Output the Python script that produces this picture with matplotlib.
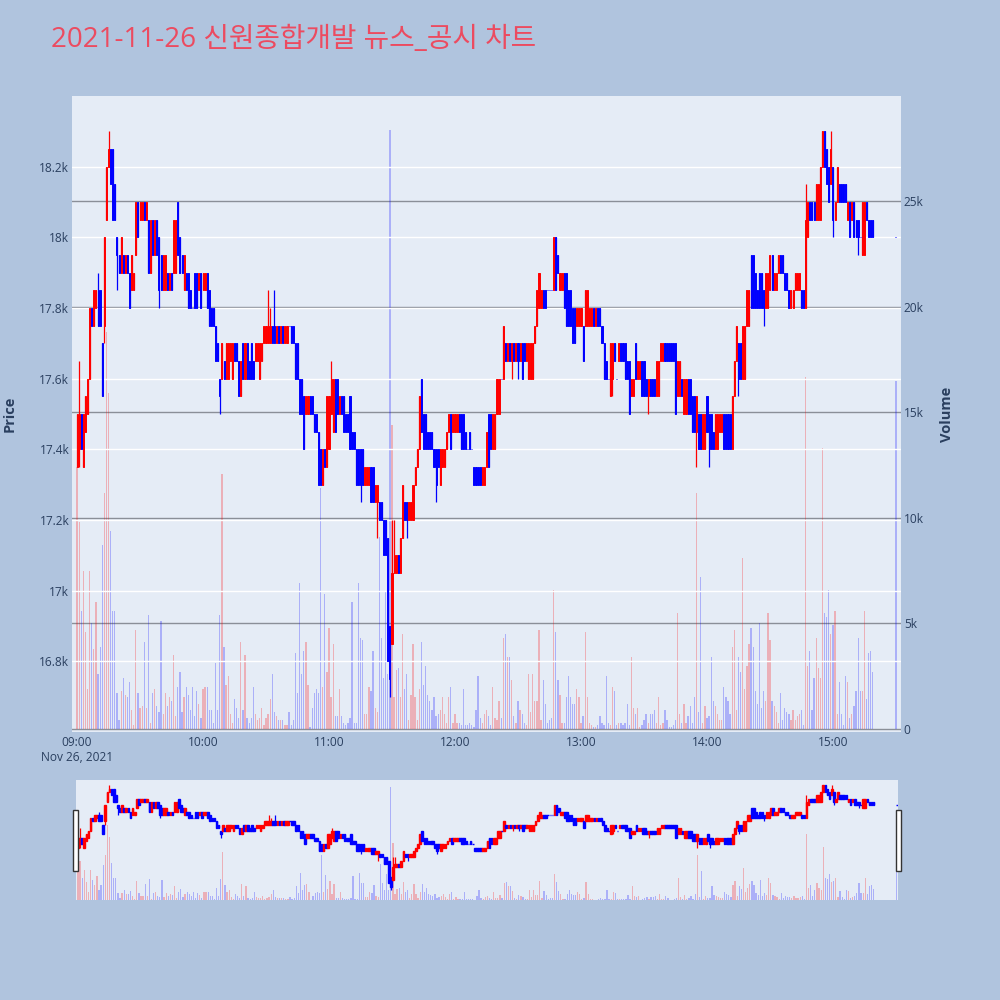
import matplotlib
matplotlib.use("Agg")
import matplotlib.pyplot as plt
from matplotlib.patches import Rectangle
import numpy as np

plt.rcParams['font.family'] = ['Open Sans', 'Noto Sans CJK KR', 'DejaVu Sans']

# minute bars of the session (minutes after 09:00), last one is the 15:30 close
minutes = list(range(380)) + [390]

# prices as 50-won ticks above 17,000
opens = [
    7, 8, 10, 7, 9, 10, 12, 16, 15, 16,
    17, 17, 14, 15, 21, 24, 25, 25, 23, 20,
    19, 18, 19, 18, 19, 18, 17, 17, 19, 22,
    21, 21, 22, 21, 21, 18, 21, 19, 21, 20,
    19, 17, 17, 18, 17, 18, 18, 18, 22, 20,
    19, 17, 18, 18, 17, 16, 18, 18, 17, 18,
    17, 17, 18, 17, 16, 16, 15, 14, 12, 12,
    13, 12, 12, 13, 12, 14, 14, 13, 11, 14,
    12, 14, 13, 14, 13, 13, 13, 12, 13, 14,
    14, 14, 14, 15, 15, 14, 15, 14, 15, 14,
    14, 15, 15, 15, 14, 14, 12, 12, 11, 10,
    10, 11, 11, 10, 10, 9, 8, 6, 8, 7,
    8, 10, 9, 12, 12, 10, 11, 11, 10, 10,
    11, 9, 9, 8, 8, 8, 8, 6, 6, 6,
    7, 7, 5, 5, 5, 5, 4, 4, 3, -2,
    -3, 1, 1, 2, 1, 3, 5, 5, 4, 4,
    4, 6, 7, 8, 12, 10, 10, 9, 9, 9,
    8, 8, 8, 6, 7, 7, 8, 9, 10, 9,
    9, 9, 10, 10, 10, 9, 8, 9, 8, 7,
    7, 7, 7, 6, 6, 7, 10, 10, 8, 8,
    10, 10, 12, 12, 14, 13, 14, 13, 14, 13,
    14, 13, 14, 14, 13, 12, 12, 12, 14, 15,
    16, 16, 17, 17, 17, 17, 17, 17, 20, 19,
    17, 17, 18, 18, 17, 17, 16, 16, 15, 15,
    15, 15, 15, 15, 15, 15, 16, 15, 16, 16,
    15, 14, 13, 12, 11, 12, 14, 12, 13, 14,
    14, 14, 13, 13, 11, 11, 14, 12, 12, 13,
    13, 12, 11, 12, 12, 12, 11, 11, 13, 13,
    14, 14, 14, 14, 14, 14, 11, 11, 12, 10,
    10, 12, 12, 11, 11, 9, 10, 10, 8, 8,
    11, 10, 10, 9, 8, 8, 9, 9, 10, 10,
    10, 10, 8, 11, 13, 14, 14, 12, 12, 15,
    15, 19, 19, 18, 17, 18, 18, 17, 16, 16,
    17, 19, 17, 17, 18, 19, 19, 18, 18, 17,
    16, 16, 17, 17, 17, 17, 17, 16, 20, 22,
    22, 22, 21, 21, 21, 24, 26, 25, 24, 23,
    24, 21, 22, 23, 23, 23, 23, 21, 22, 21,
    22, 21, 21, 20, 19, 19, 22, 21, 21, 21,
    20,
]
closes = [
    10, 10, 8, 10, 11, 12, 16, 15, 17, 17,
    15, 15, 11, 20, 24, 25, 23, 21, 21, 19,
    18, 20, 18, 19, 18, 16, 19, 18, 22, 20,
    22, 22, 21, 22, 18, 21, 19, 21, 19, 17,
    17, 19, 19, 17, 18, 17, 21, 21, 19, 18,
    18, 19, 17, 16, 16, 16, 16, 16, 18, 16,
    18, 18, 16, 15, 15, 15, 13, 13, 11, 14,
    12, 14, 14, 14, 14, 13, 13, 11, 13, 12,
    14, 12, 12, 12, 12, 14, 14, 14, 14, 15,
    15, 15, 15, 14, 14, 15, 14, 15, 14, 15,
    15, 15, 14, 14, 12, 12, 10, 10, 8, 11,
    11, 10, 10, 9, 9, 6, 6, 8, 7, 11,
    11, 12, 12, 9, 10, 11, 10, 9, 9, 9,
    8, 8, 8, 6, 6, 6, 6, 7, 7, 7,
    5, 5, 6, 6, 4, 4, 2, 2, -4, -5,
    1, 2, 2, 1, 3, 6, 4, 4, 5, 5,
    6, 7, 8, 11, 9, 8, 8, 8, 8, 8,
    7, 6, 7, 8, 8, 8, 9, 10, 8, 10,
    10, 10, 9, 8, 8, 8, 8, 8, 8, 6,
    6, 6, 6, 7, 7, 9, 7, 8, 10, 10,
    12, 12, 12, 15, 13, 14, 13, 14, 13, 14,
    13, 14, 12, 13, 14, 14, 14, 14, 15, 17,
    18, 17, 16, 16, 17, 17, 17, 20, 17, 18,
    18, 18, 16, 15, 15, 15, 14, 14, 16, 16,
    16, 13, 17, 17, 16, 16, 15, 16, 15, 15,
    14, 12, 12, 12, 14, 14, 13, 12, 14, 13,
    13, 12, 12, 10, 12, 12, 12, 13, 13, 11,
    11, 11, 12, 11, 11, 11, 13, 13, 14, 14,
    13, 13, 13, 13, 13, 10, 13, 13, 11, 12,
    12, 10, 10, 9, 9, 11, 8, 8, 10, 10,
    9, 8, 8, 8, 10, 10, 10, 10, 8, 8,
    8, 8, 11, 13, 15, 12, 12, 15, 15, 17,
    17, 16, 16, 16, 16, 16, 16, 16, 18, 18,
    19, 17, 18, 18, 19, 18, 18, 17, 17, 16,
    17, 17, 18, 18, 18, 16, 16, 21, 22, 21,
    21, 21, 23, 23, 24, 26, 24, 23, 22, 25,
    21, 22, 24, 22, 22, 22, 22, 22, 20, 22,
    20, 20, 20, 20, 22, 22, 21, 20, 20, 20,
    20,
]
# wicks that reach past the body (bar index -> tick)
wick_high = {1: 13, 10: 18, 15: 26, 91: 17, 92: 16, 94: 17, 121: 13, 150: 4,
             151: 4, 220: 18, 347: 23, 355: 26, 359: 26}
wick_low = {0: 7, 1: 7, 13: 14, 19: 17, 39: 16, 68: 10, 135: 5, 143: 3, 149: -6,
            157: 3, 171: 5, 207: 12, 210: 12, 255: 11, 272: 10, 295: 7, 301: 7,
            315: 11, 327: 15, 360: 20, 372: 19}

# volume per minute, thousands of shares
volumes_k = [
    12.4, 9.8, 5.6, 7.5, 4.6, 1.9, 7.5, 5.0, 3.8, 6.0,
    2.6, 3.9, 8.7, 11.2, 18.8, 15.9, 9.4, 5.6, 5.6, 1.7,
    0.4, 1.8, 2.4, 1.6, 1.5, 2.2, 0.9, 0.2, 4.7, 1.7,
    1.0, 1.1, 4.1, 1.0, 5.4, 0.3, 1.7, 1.9, 1.1, 0.8,
    5.1, 0.7, 1.7, 1.1, 1.5, 1.3, 3.5, 0.6, 2.0, 2.7,
    0.8, 1.5, 2.0, 1.6, 0.9, 2.0, 0.6, 1.8, 1.2, 0.5,
    1.9, 2.0, 2.0, 0.9, 0.9, 0.3, 3.1, 0.9, 5.4, 12.1,
    3.9, 2.1, 2.5, 0.7, 0.3, 1.4, 1.0, 0.5, 4.1, 0.9,
    3.5, 0.5, 0.3, 0.5, 2.0, 0.7, 0.4, 0.5, 1.0, 0.2,
    0.5, 0.7, 1.4, 2.6, 0.8, 0.6, 0.4, 0.4, 0.4, 0.2,
    0.2, 0.8, 0.2, 0.4, 3.6, 1.7, 6.9, 2.6, 3.7, 4.1,
    2.1, 0.1, 1.0, 1.7, 1.9, 1.7, 11.4, 2.0, 6.4, 2.7,
    4.8, 1.5, 4.0, 0.6, 0.6, 1.9, 0.6, 0.3, 0.2, 0.3,
    0.5, 6.0, 0.3, 0.3, 6.9, 4.3, 4.2, 0.7, 0.7, 2.0,
    1.8, 3.7, 1.0, 0.8, 9.1, 4.3, 2.4, 6.5, 2.6, 28.4,
    14.4, 1.5, 2.8, 2.9, 1.5, 4.5, 1.9, 2.6, 0.4, 1.6,
    4.0, 1.5, 0.4, 1.9, 4.1, 2.1, 3.0, 1.6, 1.3, 0.9,
    1.5, 0.6, 0.7, 0.9, 1.5, 0.7, 0.3, 1.5, 2.0, 0.3,
    0.7, 0.3, 0.3, 0.2, 1.9, 0.2, 0.2, 0.3, 0.2, 0.1,
    0.9, 2.5, 0.5, 0.3, 0.7, 0.9, 0.6, 0.2, 2.0, 0.5,
    0.4, 1.3, 0.5, 4.3, 4.5, 3.4, 3.4, 2.3, 0.6, 0.3,
    1.3, 0.9, 0.7, 0.3, 0.2, 2.6, 0.8, 2.6, 1.3, 1.3,
    4.7, 0.4, 2.3, 1.2, 0.3, 0.4, 0.5, 6.6, 4.6, 2.3,
    1.6, 0.3, 0.3, 1.5, 2.5, 1.5, 1.2, 1.2, 1.9, 1.5,
    0.3, 0.6, 4.6, 1.5, 0.3, 0.2, 0.1, 0.1, 0.2, 0.6,
    0.3, 0.2, 2.5, 0.3, 0.2, 2.0, 1.8, 0.2, 0.3, 0.3,
    0.2, 0.3, 1.2, 0.2, 3.4, 1.0, 0.7, 1.0, 0.1, 0.2,
    0.4, 0.7, 0.3, 0.7, 0.7, 0.9, 0.3, 1.5, 0.2, 0.3,
    0.9, 0.4, 0.1, 0.1, 0.2, 0.4, 5.5, 0.7, 0.3, 1.2,
    0.3, 0.6, 1.1, 0.3, 1.5, 11.2, 0.8, 7.2, 0.3, 1.1,
    0.5, 0.6, 3.4, 1.3, 1.1, 0.7, 0.4, 0.4, 2.0, 1.5,
    1.3, 0.7, 3.9, 4.7, 0.9, 3.4, 2.7, 8.1, 1.9, 3.0,
    4.0, 4.8, 3.9, 1.8, 1.2, 5.0, 1.0, 1.8, 1.3, 5.5,
    4.2, 1.3, 1.1, 0.8, 0.3, 1.7, 0.4, 1.0, 0.8, 0.7,
    0.4, 0.9, 0.4, 0.6, 0.7, 0.9, 0.2, 16.7, 3.0, 3.7,
    0.9, 2.4, 4.3, 2.9, 2.4, 13.3, 5.5, 5.3, 6.6, 4.5,
    4.9, 5.6, 0.7, 2.2, 0.7, 0.2, 2.5, 2.2, 0.5, 0.7,
    1.1, 1.8, 4.3, 1.8, 1.8, 5.6, 1.4, 3.6, 3.7, 2.7,
    16.5,
]

hour_ticks = [0, 60, 120, 180, 240, 300, 360]
hour_labels = ['09:00\nNov 26, 2021', '10:00', '11:00', '12:00', '13:00', '14:00', '15:00']
price_ticks = [16800, 17000, 17200, 17400, 17600, 17800, 18000, 18200]
price_labels = ['16.8k', '17k', '17.2k', '17.4k', '17.6k', '17.8k', '18k', '18.2k']
vol_ticks = [0, 5000, 10000, 15000, 20000, 25000]
vol_labels = ['0', '5k', '10k', '15k', '20k', '25k']

x = np.array(minutes)
o = 17000 + 50 * np.array(opens)
c = 17000 + 50 * np.array(closes)
hi = np.maximum(o, c)
lo = np.minimum(o, c)
for i, t in wick_high.items():
    hi[i] = 17000 + 50 * t
for i, t in wick_low.items():
    lo[i] = 17000 + 50 * t
vol = np.array(volumes_k) * 1000
colors = np.where(c > o, '#ff0000', '#0000ff')

TXT = '#2a3f5f'
BG = '#e5ecf6'


def draw(ax_v, ax_p, body_w, edge_lw):
    ax_v.bar(x, vol, width=0.6, color=colors, alpha=0.25, linewidth=0, zorder=2)
    ax_p.vlines(x, lo, hi, colors=colors, lw=0.9, zorder=3)
    ax_p.bar(x, np.abs(c - o), bottom=np.minimum(o, c), width=body_w,
             color=colors, edgecolor=colors, linewidth=edge_lw, zorder=4)


fig = plt.figure(figsize=(10, 10), dpi=100, facecolor='#b0c4de')

# main chart: volume axes underneath, price axes on top
ax = fig.add_axes([0.072, 0.268, 0.829, 0.636], facecolor=BG)
axp = ax.twinx()
draw(ax, axp, 0.5, 0.7)

ax.set_xlim(-2.4, 392.4)
ax.set_ylim(-150, 30000)
axp.set_ylim(16600, 18400)

ax.set_yticks(vol_ticks, vol_labels)
axp.set_yticks(price_ticks, price_labels)
ax.set_xticks(hour_ticks, hour_labels)
ax.yaxis.tick_right()
ax.yaxis.set_label_position('right')
axp.yaxis.tick_left()
axp.yaxis.set_label_position('left')

ax.set_axisbelow(True)
axp.set_axisbelow(True)
ax.grid(axis='y', color='#8a8f98', lw=1, zorder=1)
axp.grid(axis='y', color='white', lw=1, zorder=0)

for a in (ax, axp):
    a.tick_params(length=0, labelsize=8.6, labelcolor=TXT, pad=2)
    for s in a.spines.values():
        s.set_visible(False)
ax.tick_params(axis='x', pad=3)

axp.set_ylabel('Price', fontsize=10.5, color=TXT, fontweight='bold', labelpad=16)
ax.set_ylabel('Volume', fontsize=10.5, color=TXT, fontweight='bold', labelpad=12)

fig.text(0.051, 0.96, '2021-11-26 신원종합개발 뉴스_공시 차트', fontsize=20,
         color='#ec4b60', ha='left', va='center',
         family=['Open Sans', 'Noto Sans CJK KR', 'DejaVu Sans'])

# range slider
rs = fig.add_axes([0.076, 0.1, 0.822, 0.12], facecolor=BG)
rsp = rs.twinx()
draw(rs, rsp, 0.8, 1.0)
rs.set_xlim(-0.95, 390.6)
rs.set_ylim(0, 30200)
rsp.set_ylim(16547, 18384)
for a in (rs, rsp):
    a.set_xticks([])
    a.set_yticks([])
    for s in a.spines.values():
        s.set_visible(False)

for left in (0.0733, 0.896):
    fig.patches.append(Rectangle((left, 0.1295), 0.0047, 0.0605, transform=fig.transFigure,
                                 facecolor='white', edgecolor='#333333', lw=1.0, zorder=10))

fig.savefig('out.png', dpi=100, facecolor=fig.get_facecolor())
